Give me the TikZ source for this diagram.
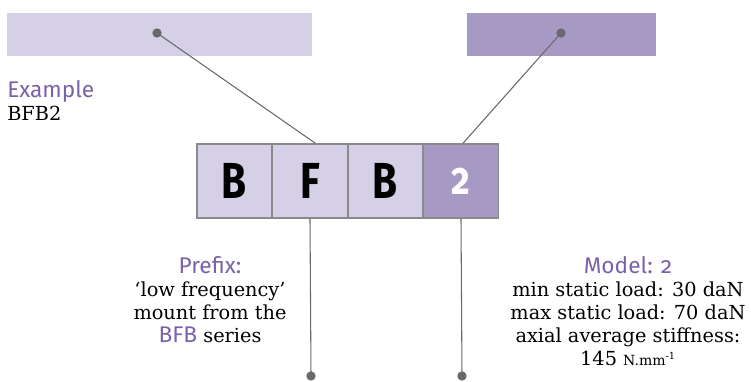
\documentclass[tikz,border=0pt]{standalone}
\usepackage{fontspec}
\usepackage{graphicx}
\setmainfont{DejaVu Serif}
\newfontfamily\labelsans[Numbers=OldStyle]{Fira Sans}
\usepackage{xcolor}
\definecolor{lightlav}{HTML}{D5D0E6}
\definecolor{darklav}{HTML}{A699C4}
\definecolor{titlepurple}{HTML}{7A62A8}
\definecolor{leadgrey}{HTML}{69696C}
\definecolor{cellgrey}{HTML}{8A8A8C}
\newcommand{\cellglyph}[1]{\scalebox{0.8}[1]{#1}}

\tikzset{
  cell/.style={draw=cellgrey, line width=1.1pt, minimum width=56.5pt, minimum height=55.5pt,
    inner sep=0pt, font=\labelsans\bfseries\fontsize{38}{38}\selectfont},
  leader/.style={draw=leadgrey, line width=0.8pt},
  pin/.style={circle, fill=leadgrey, inner sep=0pt, minimum size=7pt},
  bodytext/.style={align=center, inner sep=0pt, font=\fontsize{14.5}{17.25}\selectfont},
  sanslabel/.style={font=\labelsans\fontsize{17}{17.25}\selectfont, text=titlepurple},
}

\begin{document}
\begin{tikzpicture}[x=0.75pt,y=0.75pt,yscale=-1,xscale=1]
    \useasboundingbox (0,0) rectangle (751,382);

    %Shape: Rectangle (top bars)
    \fill [lightlav] (7,13) rectangle (312,56);
    \fill [darklav] (467,13) rectangle (656,56);

    % Cells
    \node [cell, fill=lightlav] (cellB) at (234.5,181) {\cellglyph{B}};
    \node [cell, fill=lightlav] (cellF) at (310,181) {\cellglyph{F}};
    \node [cell, fill=lightlav] (cellBB) at (385.5,181) {\cellglyph{B}};
    \node [cell, fill=darklav, text=white] (cellTwo) at (461,181) {\fontsize{34}{34}\selectfont\cellglyph{2}};

    % Pins
    \node [pin] (pinPrefix) at (157,33) {};
    \node [pin] (pinModel) at (561,33) {};
    \node [pin] (pinSeries) at (311,376) {};
    \node [pin] (pinLoad) at (462,376) {};

    %Straight Lines
    \draw [leader] (pinPrefix.center) -- ([xshift=4pt]cellF.north);
    \draw [leader] (pinModel.center) -- ([xshift=1.5pt]cellTwo.north);
    \draw [leader] (cellF.south) -- (pinSeries.center);
    \draw [leader] (cellTwo.south) -- (pinLoad.center);

    % Text Node
    \node [sanslabel, anchor=west, inner sep=0pt] (example) at (7,91) {Example};
    % Text Node
    \node [anchor=west, inner sep=0pt, font=\fontsize{14.5}{17}\selectfont] (exampleCode) at (7,113) {BFB2};
    % Text Node
    \node [bodytext, anchor=north] (prefixText) at (210,256) {{\labelsans\fontsize{17}{17.25}\selectfont\color{titlepurple}Prefix:}\\
      `low frequency'\\ mount from the\\ {\labelsans\fontsize{17}{17.25}\selectfont\color{titlepurple}BFB} series};
    % Text Node
    \node [bodytext, anchor=north] (modelText) at (628,256) {{\labelsans\fontsize{17}{17.25}\selectfont\color{titlepurple}Model: 2}\\
      min static load: 30 daN\\ max static load: 70 daN\\ axial average stiffness:\\
      145 {\fontsize{10.5}{12}\selectfont N.mm\textsuperscript{-1}}};

\end{tikzpicture}
\end{document}
